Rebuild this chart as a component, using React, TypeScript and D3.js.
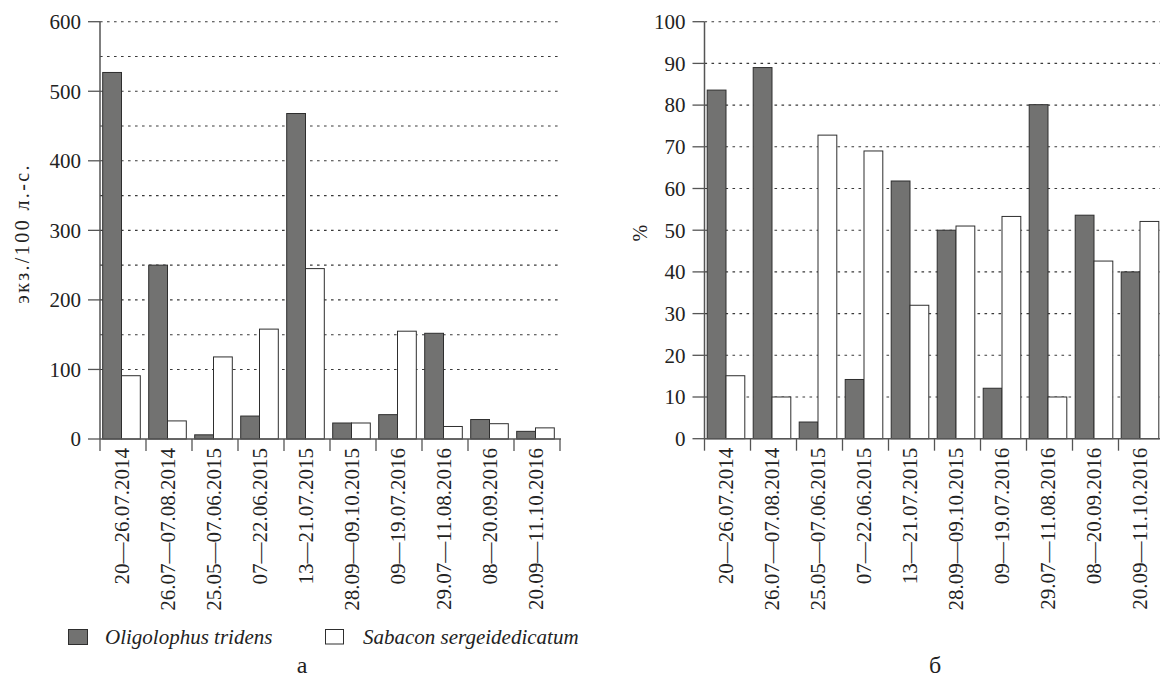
import React, { useEffect, useRef } from "react";
import * as d3 from "d3";

const categories = [
  "20—26.07.2014",
  "26.07—07.08.2014",
  "25.05—07.06.2015",
  "07—22.06.2015",
  "13—21.07.2015",
  "28.09—09.10.2015",
  "09—19.07.2016",
  "29.07—11.08.2016",
  "08—20.09.2016",
  "20.09—11.10.2016",
];
const seriesNames = ["Oligolophus tridens", "Sabacon sergeidedicatum"];
const absOligolophus = [527, 250, 6, 33, 468, 23, 35, 152, 28, 11];
const absSabacon = [91, 26, 118, 158, 245, 23, 155, 18, 22, 16];
const pctOligolophus = [83.6, 89, 4, 14.2, 61.8, 50, 12.1, 80.1, 53.6, 40];
const pctSabacon = [15.1, 10, 72.8, 69, 32, 51, 53.3, 10, 42.6, 52.1];
const absTicks = [0, 100, 200, 300, 400, 500, 600];
const absGrid = [100, 150, 200, 250, 300, 350, 400, 450, 500, 550, 600];
const pctTicks = [0, 10, 20, 30, 40, 50, 60, 70, 80, 90, 100];
const pctGrid = [10, 20, 30, 40, 50, 60, 70, 80, 90, 100];

const DARK = "#727271";
const EDGE = "#2e2e2e";
const AXIS = "#555";
const FAM = '"Times New Roman", Tinos, FreeSerif, serif';

type PanelProps = {
  x0: number;
  x1: number;
  gridEnd: number;
  yMax: number;
  yTop: number;
  yBottom: number;
  ticks: number[];
  grid: number[];
  a: number[];
  b: number[];
  yTitle: string;
  yTitleX: number;
  yTitleSpacing: number;
  caption: string;
  captionX: number;
};

function Panel(p: PanelProps) {
  const x = d3.scaleBand<string>().domain(categories).range([p.x0, p.x1]).padding(0);
  const y = d3.scaleLinear().domain([0, p.yMax]).range([p.yBottom, p.yTop]);
  const bw = x.bandwidth();
  const inner = d3
    .scaleBand<string>()
    .domain(seriesNames)
    .range([2.7, 2.7 + 37.6])
    .padding(0);
  const boundaries = categories.map((c) => x(c) as number).concat([p.x1]);
  const series = [p.a, p.b];
  return (
    <g>
      {p.grid.map((g) => (
        <line
          key={"g" + g}
          x1={p.x0}
          x2={p.gridEnd}
          y1={y(g)}
          y2={y(g)}
          stroke="#3a3a3a"
          strokeWidth={1.1}
          strokeDasharray="2.6 4.4"
        />
      ))}
      {categories.map((c, i) =>
        series.map((s, k) => {
          const bx = (x(c) as number) + (inner(seriesNames[k]) as number);
          const v = s[i];
          return (
            <rect
              key={c + k}
              x={bx}
              y={y(v)}
              width={inner.bandwidth()}
              height={p.yBottom - y(v)}
              fill={k === 0 ? DARK : "#fff"}
              stroke={EDGE}
              strokeWidth={1}
            />
          );
        })
      )}
      <line x1={p.x0} x2={p.x0} y1={p.yTop} y2={p.yBottom} stroke={AXIS} strokeWidth={1.5} />
      <line x1={p.x0} x2={p.x1 + 1} y1={p.yBottom} y2={p.yBottom} stroke={AXIS} strokeWidth={1.5} />
      {p.ticks.map((t) => (
        <g key={"t" + t}>
          <line x1={p.x0 - 12} x2={p.x0} y1={y(t)} y2={y(t)} stroke={AXIS} strokeWidth={1.3} />
          <text
            className="serif"
            x={p.x0 - 19}
            y={y(t)}
            dy="0.35em"
            textAnchor="end"
            fontSize={21}
            fill="#222"
          >
            {t}
          </text>
        </g>
      ))}
      {boundaries.map((bx, i) => (
        <line
          key={"b" + i}
          x1={bx}
          x2={bx}
          y1={p.yBottom}
          y2={p.yBottom + 12}
          stroke={AXIS}
          strokeWidth={1.3}
        />
      ))}
      {categories.map((c) => {
        const cx = (x(c) as number) + bw / 2 - 1.5;
        return (
          <text
            className="serif"
            key={"l" + c}
            transform={`translate(${cx},${p.yBottom + 9}) rotate(-90)`}
            dy="0.35em"
            textAnchor="end"
            fontSize={21}
            fill="#222"
          >
            {c}
          </text>
        );
      })}
      <text
        className="serif"
        transform={`translate(${p.yTitleX},${(p.yTop + p.yBottom) / 2 + 3}) rotate(-90)`}
        dy="0.35em"
        textAnchor="middle"
        fontSize={20}
        letterSpacing={p.yTitleSpacing}
        fill="#222"
      >
        {p.yTitle}
      </text>
      <text
        className="serif"
        x={p.captionX}
        y={673}
        textAnchor="middle"
        fontSize={24}
        fill="#222"
      >
        {p.caption}
      </text>
    </g>
  );
}

export default function App() {
  const ref = useRef<SVGSVGElement | null>(null);
  useEffect(() => {
    if (!ref.current) return;
    d3.select(ref.current)
      .selectAll<SVGTextElement, unknown>("text")
      .each(function () {
        this.style.setProperty("font-family", FAM, "important");
      });
  }, []);
  return (
    <svg
      ref={ref}
      width={1160}
      height={680}
      viewBox="0 0 1160 680"
      fontFamily={FAM}
      style={{ position: "absolute", left: 0, top: 0, background: "#fff" }}
    >
      <style>{`svg text, .serif { font-family: "Times New Roman", Tinos, FreeSerif, serif !important; }`}</style>
      <rect x={0} y={0} width={1160} height={680} fill="#fff" />
      <Panel
        x0={100}
        x1={560}
        gridEnd={558}
        yMax={600}
        yTop={21.7}
        yBottom={439}
        ticks={absTicks}
        grid={absGrid}
        a={absOligolophus}
        b={absSabacon}
        yTitle="экз./100 л.-с."
        yTitleX={22}
        yTitleSpacing={2.4}
        caption="а"
        captionX={302}
      />
      <Panel
        x0={704.5}
        x1={1164.5}
        gridEnd={1160}
        yMax={100}
        yTop={21.7}
        yBottom={438.7}
        ticks={pctTicks}
        grid={pctGrid}
        a={pctOligolophus}
        b={pctSabacon}
        yTitle="%"
        yTitleX={640}
        yTitleSpacing={0}
        caption="б"
        captionX={935}
      />
      <g>
        <rect x={68.5} y={629.5} width={19} height={15} fill={DARK} stroke={EDGE} strokeWidth={1} />
        <text className="serif" x={105} y={644} fontSize={21} fontStyle="italic" fill="#222">
          {seriesNames[0]}
        </text>
        <rect x={325.5} y={629.5} width={18} height={14.5} fill="#fff" stroke={EDGE} strokeWidth={1} />
        <text className="serif" x={363} y={644} fontSize={21} fontStyle="italic" fill="#222">
          {seriesNames[1]}
        </text>
      </g>
    </svg>
  );
}
